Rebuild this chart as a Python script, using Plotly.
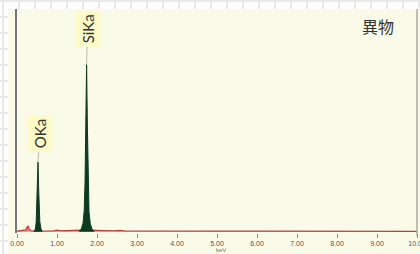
import plotly.graph_objects as go

# ---------------- data ----------------
tick_values = [0, 1, 2, 3, 4, 5, 6, 7, 8, 9, 10]
tick_labels = ["0.00", "1.00", "2.00", "3.00", "4.00", "5.00", "6.00", "7.00", "8.00", "9.00", "10.00"]

# background (red) spectrum
background_kev = [0.00, 0.15, 0.22, 0.25, 0.28, 0.31, 0.36, 0.45, 0.70, 0.90, 1.00, 1.10, 1.25,
                  1.40, 1.50, 1.60, 1.95, 2.10, 2.40, 2.60, 2.70, 3.00, 3.50, 4.00, 5.00,
                  6.00, 7.00, 8.00, 9.00, 10.00]
background_counts = [2, 4, 8, 20, 24, 10, 4, 3, 3, 3, 7, 4, 5,
                     6, 5, 7, 6, 5, 4, 6, 3, 3, 2, 2, 2,
                     2, 2, 1, 1, 1]

# O Ka peak
o_peak_kev = [0.42, 0.46, 0.48, 0.50, 0.51, 0.525, 0.54, 0.55, 0.57, 0.60, 0.63]
o_peak_counts = [0, 12, 45, 130, 210, 312, 200, 120, 45, 12, 0]

# Si Ka peak
si_peak_kev = [1.56, 1.61, 1.65, 1.68, 1.70, 1.72, 1.74, 1.76, 1.78, 1.80, 1.83, 1.87, 1.93]
si_peak_counts = [0, 14, 38, 95, 215, 480, 750, 470, 205, 90, 38, 14, 0]

peak_names = ["OKa", "SiKa"]
peak_kev = [0.525, 1.74]
peak_top = [312, 750]

sample_label = "異物"
x_title = "keV"

# ---------------- layout helpers ----------------
W, H = 420, 254
ML, MR, MT, MB = 17, 3, 9, 21
PW, PH = W - ML - MR, H - MT - MB


def px_x(px):
    return (px - ML) / PW


def px_y(py):
    return (H - MB - py) / PH


fig = go.Figure()

fig.add_trace(go.Scatter(
    x=background_kev, y=background_counts, mode="lines",
    line=dict(color="#c8383a", width=1.2), fill="tozeroy",
    fillcolor="rgba(200,56,58,0.6)", hoverinfo="skip", showlegend=False))

for xs, ys in [(o_peak_kev, o_peak_counts), (si_peak_kev, si_peak_counts)]:
    fig.add_trace(go.Scatter(
        x=xs, y=ys, mode="lines", line=dict(color="#0e3a20", width=1),
        fill="tozeroy", fillcolor="#0e3a20", hoverinfo="skip", showlegend=False))

shapes = []
# background grid of the page
gx = 3
while gx <= W:
    shapes.append(dict(type="line", xref="paper", yref="paper",
                       x0=px_x(gx), x1=px_x(gx), y0=px_y(0), y1=px_y(H),
                       line=dict(color="#e9e9e9", width=2), layer="below"))
    gx += 16
gy = 1
while gy <= H:
    shapes.append(dict(type="line", xref="paper", yref="paper",
                       x0=px_x(0), x1=px_x(W), y0=px_y(gy), y1=px_y(gy),
                       line=dict(color="#e9e9e9", width=2), layer="below"))
    gy += 16
# cream panel
shapes.append(dict(type="rect", xref="paper", yref="paper",
                   x0=px_x(8), x1=px_x(W + 2), y0=px_y(9), y1=px_y(H + 2),
                   fillcolor="#fafae9", line=dict(width=0), layer="below"))
# right border
shapes.append(dict(type="line", xref="paper", yref="paper",
                   x0=1, x1=1, y0=px_y(236), y1=1,
                   line=dict(color="#a8a8a0", width=1.5), layer="above"))

annotations = []
label_offsets = [(2, -28), (1, -36)]
for name, kx, top, (ox, oy) in zip(peak_names, peak_kev, peak_top, label_offsets):
    annotations.append(dict(
        x=kx, y=top, xref="x", yref="y", text=name, textangle=-90,
        showarrow=True, arrowhead=0, arrowcolor="#b9bcb0", arrowwidth=1,
        ax=ox, ay=oy,
        bgcolor="#fcfbc8", borderpad=3,
        font=dict(family="Lato, Open Sans, sans-serif", size=15, color="#333333")))

annotations.append(dict(
    x=px_x(378), y=px_y(26), xref="paper", yref="paper", text=sample_label,
    showarrow=False, xanchor="center", yanchor="middle",
    font=dict(family="Noto Sans CJK JP", size=16, color="#333333")))
annotations.append(dict(
    x=px_x(221), y=px_y(250), xref="paper", yref="paper", text=x_title,
    showarrow=False, xanchor="center", yanchor="middle",
    font=dict(family="Liberation Sans, Arial", size=6, color="#777777")))

fig.update_layout(
    width=W, height=H, template="none",
    margin=dict(l=ML, r=MR, t=MT, b=MB, pad=0),
    paper_bgcolor="#ffffff", plot_bgcolor="rgba(0,0,0,0)",
    shapes=shapes, annotations=annotations, showlegend=False,
    xaxis=dict(range=[0, 10], tickvals=tick_values, ticktext=tick_labels,
               ticks="outside", ticklen=4, tickcolor="#8c8c8c", tickwidth=1,
               tickfont=dict(family="Liberation Sans, Arial", size=7, color="#555555"),
               ticklabeloverflow="allow",
               showgrid=False, zeroline=False, showline=False, automargin=False,
               fixedrange=True),
    yaxis=dict(range=[-6, 1000], showticklabels=False, ticks="", showgrid=False,
               zeroline=False, showline=True, linecolor="#777777", linewidth=2,
               automargin=False, fixedrange=True),
)

fig.write_html(
    "out.html",
    config={"displayModeBar": False},
    post_script="document.body.style.margin='0';document.body.style.overflow='hidden';",
)
